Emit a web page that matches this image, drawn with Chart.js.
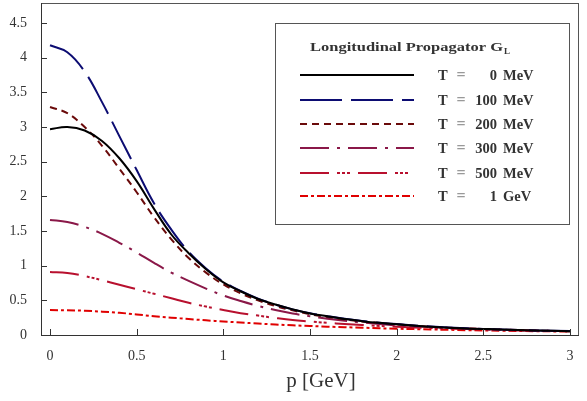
<!DOCTYPE html>
<html>
<head>
<meta charset="utf-8">
<script src="https://cdn.jsdelivr.net/npm/chart.js@4.4.1/dist/chart.umd.min.js"></script>
<style>
html,body{margin:0;padding:0;background:#fff;}
#wrap{width:587px;height:401px;position:relative;}
</style>
</head>
<body>
<div id="wrap"><canvas id="c" width="587" height="401"></canvas></div>
<script>
// ---- data ----
const pValues = [0,0.1,0.2,0.3,0.4,0.5,0.6,0.7,0.8,0.9,1.0,1.1,1.2,1.3,1.4,1.5,1.6,1.7,1.8,1.9,2.0,2.2,2.4,2.6,2.8,3.0];
const gT0    = [2.97,3.00,2.95,2.80,2.55,2.22,1.82,1.45,1.18,0.95,0.76,0.63,0.52,0.44,0.37,0.31,0.27,0.23,0.20,0.175,0.155,0.12,0.095,0.08,0.065,0.055];
const gT100  = [4.18,4.08,3.80,3.36,2.87,2.38,1.90,1.52,1.20,0.96,0.77,0.635,0.525,0.44,0.37,0.315,0.272,0.233,0.202,0.177,0.157,0.122,0.097,0.081,0.066,0.056];
const gT200  = [3.29,3.20,3.00,2.73,2.40,2.06,1.70,1.38,1.11,0.90,0.73,0.60,0.50,0.42,0.355,0.30,0.26,0.225,0.195,0.172,0.152,0.118,0.094,0.079,0.064,0.054];
const gT300  = [1.66,1.63,1.56,1.46,1.33,1.19,1.04,0.90,0.78,0.67,0.57,0.49,0.42,0.36,0.31,0.27,0.235,0.205,0.18,0.16,0.14,0.115,0.095,0.08,0.066,0.056];
const gT500  = [0.91,0.895,0.85,0.79,0.725,0.66,0.595,0.53,0.465,0.41,0.36,0.315,0.28,0.245,0.215,0.195,0.175,0.16,0.145,0.13,0.12,0.10,0.085,0.072,0.062,0.053];
const gT1000 = [0.36,0.357,0.35,0.337,0.32,0.297,0.27,0.25,0.23,0.212,0.195,0.18,0.165,0.152,0.14,0.13,0.12,0.112,0.105,0.097,0.09,0.08,0.07,0.062,0.055,0.05];
const xTickValues = [0,0.5,1,1.5,2,2.5,3];
const yTickValues = [0,0.5,1,1.5,2,2.5,3,3.5,4,4.5];
const legendTitle = "Longitudinal Propagator G";
const legendSub = "L";
const seriesLabels = [["0","MeV"],["100","MeV"],["200","MeV"],["300","MeV"],["500","MeV"],["1","GeV"]];
const xTitle = "p [GeV]";

const seriesData = [gT0,gT100,gT200,gT300,gT500,gT1000];
const colors = ["#000000","#0c0c72","#6a0a0a","#8a1848","#b8102e","#e00000"];
const dashes = [[],[42,9],[7,5],[29,8,3,8],[29,8,3,2,3,2,3,8],[8,3,3,3]];

const datasets = seriesData.map((arr,i)=>({
  label: seriesLabels[i].join(" "),
  data: arr.map((v,j)=>({x:pValues[j], y:v})),
  borderColor: colors[i],
  borderWidth: 2,
  borderDash: dashes[i],
  pointRadius: 0,
  fill: false,
  tension: 0.4
}));

const SERIF = '"Liberation Serif","DejaVu Serif",serif';

const framePlugin = {
  id: 'frame',
  afterDatasetsDraw(chart){
    const ctx = chart.ctx;
    const ca = chart.chartArea;
    const xs = chart.scales.x, ys = chart.scales.y;
    ctx.save();
    // frame
    ctx.strokeStyle = '#555';
    ctx.lineWidth = 1;
    ctx.strokeRect(Math.round(ca.left)+0.5, Math.round(ca.top)+0.5, Math.round(ca.right-ca.left)-1, Math.round(ca.bottom-ca.top));
    ctx.strokeStyle = '#333';
    ctx.beginPath();
    ctx.moveTo(Math.round(ca.left)+0.5, ca.top); ctx.lineTo(Math.round(ca.left)+0.5, ca.bottom+0.5);
    ctx.lineTo(ca.right, Math.round(ca.bottom)+0.5);
    ctx.stroke();
    // inward ticks
    ctx.beginPath();
    xTickValues.forEach(v=>{
      const px = Math.round(xs.getPixelForValue(v))+0.5;
      ctx.moveTo(px, ca.bottom); ctx.lineTo(px, ca.bottom-6);
    });
    yTickValues.forEach(v=>{
      const py = Math.round(ys.getPixelForValue(v))+0.5;
      ctx.moveTo(ca.left, py); ctx.lineTo(ca.left+6, py);
    });
    ctx.stroke();

    // x title
    ctx.fillStyle = '#333';
    ctx.font = '21px ' + SERIF;
    ctx.textAlign = 'center';
    ctx.textBaseline = 'middle';
    ctx.fillText(xTitle, 321, 381);

    // legend box
    const bx = 275.5, by = 23.5, bw = 294, bh = 201;
    ctx.fillStyle = '#fff';
    ctx.fillRect(bx, by, bw, bh);
    ctx.strokeStyle = '#555';
    ctx.lineWidth = 1;
    ctx.strokeRect(bx, by, bw, bh);
    ctx.fillStyle = '#333';
    ctx.textAlign = 'left';
    ctx.textBaseline = 'alphabetic';
    ctx.font = 'bold 13px ' + SERIF;
    const tw = ctx.measureText(legendTitle).width;
    const sx = 193 / tw;
    ctx.save();
    ctx.translate(310, 51);
    ctx.scale(sx, 1);
    ctx.fillText(legendTitle, 0, 0);
    ctx.restore();
    ctx.font = 'bold 9px ' + SERIF;
    ctx.fillText(legendSub, 310 + 193 + 1, 54);

    const rowsY = [75,100,124,148,173,196];
    rowsY.forEach((y,i)=>{
      ctx.save();
      ctx.strokeStyle = colors[i];
      ctx.lineWidth = 2;
      ctx.setLineDash(dashes[i]);
      ctx.beginPath();
      ctx.moveTo(300, y); ctx.lineTo(414, y);
      ctx.stroke();
      ctx.restore();
      ctx.font = 'bold 14.5px ' + SERIF;
      ctx.textBaseline = 'middle';
      ctx.fillStyle = '#333';
      ctx.textAlign = 'left';
      ctx.fillText('T', 438, y+1);
      ctx.fillStyle = '#999';
      ctx.textAlign = 'center';
      ctx.font = 'bold 16px ' + SERIF;
      ctx.fillText('=', 461, y+1);
      ctx.font = 'bold 14.5px ' + SERIF;
      ctx.fillStyle = '#333';
      ctx.textAlign = 'right';
      ctx.fillText(seriesLabels[i][0], 497, y+1);
      ctx.textAlign = 'left';
      ctx.fillText(seriesLabels[i][1], 503, y+1);
    });
    ctx.restore();
  }
};

new Chart(document.getElementById('c'), {
  type: 'line',
  data: { datasets },
  options: {
    responsive: false,
    animation: false,
    devicePixelRatio: 1,
    layout: { padding: { top: 3, right: 8, left: 0, bottom: 0 } },
    plugins: { legend: { display: false }, tooltip: { enabled: false }, title: { display: false } },
    scales: {
      x: {
        type: 'linear',
        min: -0.052, max: 3.052,
        grid: { display: false },
        border: { display: false },
        afterBuildTicks(s){ s.ticks = xTickValues.map(v=>({value:v})); },
        afterFit(s){ s.height = 66; s.paddingLeft = 0; s.paddingRight = 0; },
        ticks: { padding: 5, color: '#333', font: { family: SERIF, size: 14 }, maxRotation: 0, callback: v => String(v) }
      },
      y: {
        type: 'linear',
        min: 0, max: 4.79,
        grid: { display: false },
        border: { display: false },
        afterBuildTicks(s){ s.ticks = yTickValues.map(v=>({value:v})); },
        afterFit(s){ s.width = 41; s.paddingTop = 0; s.paddingBottom = 0; },
        ticks: { padding: 6, color: '#333', font: { family: SERIF, size: 14 }, callback: v => String(v) }
      }
    }
  },
  plugins: [framePlugin]
});
</script>
</body>
</html>
